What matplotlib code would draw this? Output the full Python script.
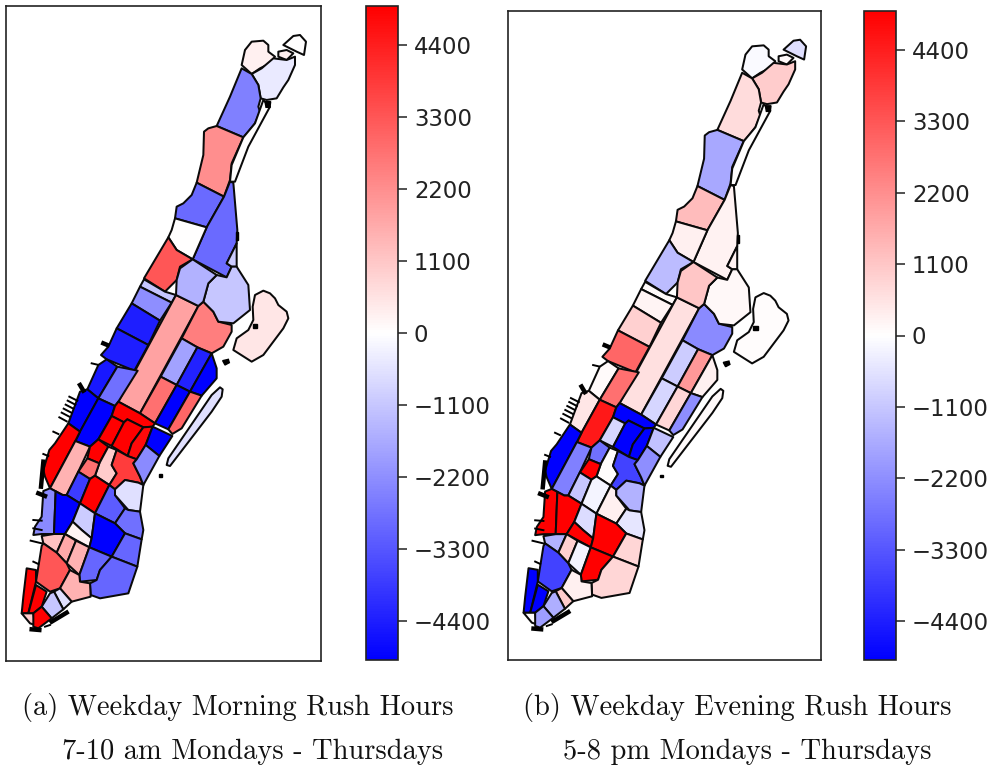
import matplotlib
matplotlib.use("Agg")
import matplotlib.pyplot as plt
from matplotlib.cm import ScalarMappable
from matplotlib.colors import Normalize
from matplotlib.patches import Polygon

W, H = 994, 766
SHIFT = 990

# ---- zone outlines (1/3 px units) ----
UPPER = [
 [(725,195),(735,150),(755,125),(790,122),(805,135),(805,155),(825,170),(810,190),(780,205),(755,222)],
 [(850,135),(880,108),(900,105),(918,125),(912,165),(890,155),(870,145)],
 [(835,155),(860,150),(880,160),(860,180),(835,170)],
 [(755,222),(785,205),(820,175),(860,180),(885,170),(885,195),(865,240),(850,262),(830,295),(800,300),(782,295),(775,255)],
 [(725,205),(755,222),(775,255),(782,295),(775,320),(780,335),(765,370),(745,395),(730,412),(690,395),(650,378),(690,290)],
 [(612,395),(625,385),(650,378),(690,395),(730,412),(695,490),(690,540),(672,590),(590,548),(610,465)],
 [(790,300),(810,320),(745,440),(705,545),(690,545),(695,495),(730,412),(765,370)],
 [(590,548),(672,590),(620,682),(525,655),(530,620),(550,610),(575,585)],
 [(690,545),(700,548),(712,690),(710,730),(680,790),(695,800),(680,832),(578,778),(620,682),(672,590)],
 [(710,730),(710,800),(695,800),(680,790)],
 [(515,690),(525,655),(620,682),(578,778),(530,750),(505,712)],
 [(505,712),(530,750),(578,778),(540,800),(530,840),(495,875),(432,835)],
 [(432,838),(495,875),(528,885),(515,908),(420,860)],
 [(420,860),(515,908),(480,962),(395,910)],
 [(395,910),(480,962),(445,1035),(350,985)],
 [(350,985),(445,1035),(403,1112),(320,1078),(303,1065),(325,1040)],
 [(528,885),(595,918),(420,1240),(355,1205)],
 [(595,918),(610,905),(640,935),(655,965),(695,975),(695,995),(670,1040),(635,1060),(592,1042),(545,1015)],
 [(625,850),(650,825),(680,832),(695,800),(710,800),(745,855),(750,930),(700,970),(655,965),(640,935),(610,905)],
 [(540,805),(578,778),(650,825),(625,850),(610,905),(595,918),(528,885),(530,840)],
 [(765,885),(790,872),(810,880),(825,895),(835,915),(860,935),(865,955),(850,985),(790,1065),(755,1085),(700,1050),(710,1015),(745,990),(760,960),(758,920)],
]
LOWER = [
 [(545,25),(592,52),(530,165),(482,140)],
 [(592,52),(635,70),(570,185),(530,165)],
 [(635,70),(650,115),(650,145),(605,197),(570,185)],
 [(482,140),(530,165),(465,280),(420,250)],
 [(530,165),(570,185),(505,298),(465,280)],
 [(570,185),(605,197),(545,295),(517,312),(505,298)],
 [(320,88),(352,110),(295,205),(262,178),(295,105)],
 [(352,110),(413,122),(355,215),(345,228),(295,205)],
 [(240,185),(262,178),(295,205),(240,305),(205,280)],
 [(295,205),(345,228),(335,258),(295,328),(270,350),(226,333),(240,305)],
 [(345,228),(355,215),(420,250),(465,280),(458,290),(430,292),(382,268),(372,277),(335,258)],
 [(335,258),(372,277),(335,348),(295,328)],
 [(372,277),(382,268),(430,292),(395,340),(383,378),(335,348)],
 [(430,292),(458,290),(437,345),(410,388),(383,378),(395,340)],
 [(458,290),(517,318),(478,378),(437,345)],
 [(148,360),(165,340),(205,280),(240,305),(226,333),(150,475),(135,440),(130,420)],
 [(226,333),(270,350),(235,425),(200,495),(188,495),(150,475)],
 [(270,350),(295,328),(325,350),(298,400),(262,385)],
 [(325,350),(350,360),(335,405),(350,430),(328,465),(285,437),(298,400)],
 [(350,360),(383,378),(410,388),(400,400),(420,440),(430,465),(415,458),(375,450),(345,478),(328,465),(350,430),(335,405)],
 [(262,385),(298,400),(285,437),(270,447),(235,425)],
 [(437,345),(478,378),(430,465),(420,440),(400,400),(410,388)],
 [(235,425),(270,447),(240,520),(200,495)],
 [(270,447),(285,437),(328,465),(285,550),(240,520)],
 [(328,465),(345,478),(345,495),(375,535),(345,580),(285,550)],
 [(375,450),(415,458),(430,465),(420,545),(385,540),(345,495),(345,478)],
 [(375,535),(385,540),(420,545),(430,600),(425,628),(375,610),(345,580)],
 [(130,483),(150,475),(167,484),(162,612),(125,612),(100,615),(105,590),(125,560)],
 [(167,484),(188,495),(200,495),(240,520),(218,575),(195,612),(162,612)],
 [(240,520),(285,550),(275,625),(245,600),(218,575)],
 [(218,575),(245,600),(275,625),(268,652),(195,612)],
 [(285,550),(345,580),(375,610),(335,680),(268,652),(275,625)],
 [(375,610),(425,628),(412,710),(335,680)],
 [(125,618),(162,612),(195,612),(170,668),(130,640)],
 [(195,612),(228,632),(200,700),(170,668)],
 [(228,632),(268,652),(238,735),(200,700)],
 [(268,652),(335,680),(300,720),(290,750),(240,755),(238,735)],
 [(335,680),(412,710),(385,790),(300,805),(272,795),(270,760),(290,750),(300,720)],
 [(125,648),(130,640),(170,668),(200,700),(210,720),(180,775),(150,785),(108,755)],
 [(210,720),(238,735),(240,755),(270,760),(272,800),(215,815),(180,775)],
 [(162,785),(180,775),(215,815),(190,838)],
 [(125,830),(150,790),(162,785),(190,838),(155,865)],
 [(80,715),(108,720),(108,755),(85,850),(65,850),(70,800)],
 [(108,765),(140,785),(125,830),(100,850),(85,850)],
 [(65,850),(85,850),(100,850),(105,885),(90,880)],
 [(100,850),(125,830),(155,865),(115,895),(100,890)],
 [(500,405),(505,385),(635,195),(660,172),(668,178),(665,200),(635,245),(510,408)],
]
FINE_PIERS = [
 [(208,200),(232,212)], [(203,212),(226,224)], [(197,224),(220,236)],
 [(191,236),(214,248)], [(185,248),(208,260)], [(178,262),(200,274)],
 [(100,570),(125,572)], [(100,595),(125,600)], [(92,632),(125,640)],
 [(100,695),(115,702)], [(160,305),(175,312)], [(130,372),(145,378)],
 [(135,890),(150,885)], [(275,100),(292,104)],
]
THICK_PIERS = [
 [(130,395),(123,470)], [(115,490),(135,498)], [(240,165),(250,182)],
 [(310,40),(322,45)], [(155,875),(200,848)], [(95,898),(118,900)],
]
BLOBS = [[(668,92),(685,88),(688,98),(675,105)], [(476,432),(485,432),(485,440),(476,440)]]
BLOBS_UPPER = [[(795,305),(812,305),(810,322),(798,322)], [(708,695),(714,695),(714,720),(708,720)],
               [(758,972),(772,972),(772,985),(758,985)]]

# ---- zone values in the order of UPPER then LOWER ----
MORNING = [300, 0, 300, -400, -2500, 2200, 0, -2900, -2900, -1000, 0, 3300, -1100, -2200, -4400,
           -4400, 1800, 2500, -1100, -1500, 500,
           -1800, -4300, -5000, 2800, -5000, 3000, -4500, -2800, -5000, -5000,
           5000, 5000, 5000, 4800, -5000, 5000, 1500, 5000, 1000, 3800, 2800,
           -2300, -3800, 5000, -3200, -600, -2800, -2300, -5000, -1000, 200, -5000, -3000,
           1200, 1700, 1500, -3000, -3000, 3300, 1500, -600, -1100, 5000, 5000, 1000, 5000, -600]
EVENING = [-100, -600, 100, 1000, 700, -1700, 0, 1300, 250, 250, 300, -1300, 100, 200, 900,
           3000, 600, -2300, 150, 1100, 50,
           -1000, 2000, 300, -800, 800, -2200, 100, 2800, 500, 4500,
           -5000, -800, -5000, -5000, -1200, -5000, -2500, -2800, 50, -3700, 5000,
           -2200, -1100, -200, 300, -1500, -500, 5000, 5000, -700, 5000, 5000, 800,
           -1500, 900, -200, 5000, 800, -3700, 300, 1000, -1600, -5000, -5000, 50, -1900, 100]

PANELS = [
    dict(box=(6, 6, 321, 661), cbar=(366, 6, 398, 660), values=MORNING),
    dict(box=(508, 11, 821, 660), cbar=(864, 11, 896, 660), values=EVENING),
]
TICKS = [-4400, -3300, -2200, -1100, 0, 1100, 2200, 3300, 4400]
LIMIT = 5000

CAPTIONS = [
    ("(a) Weekday Morning Rush Hours", 22, 707),
    ("7-10 am Mondays - Thursdays", 62, 752),
    ("(b) Weekday Evening Rush Hours", 523, 707),
    ("5-8 pm Mondays - Thursdays", 563, 752),
]


def rect(box):
    x0, y0, x1, y1 = box
    return [x0 / W, 1 - y1 / H, (x1 - x0) / W, (y1 - y0) / H]


fig = plt.figure(figsize=(W / 100, H / 100), dpi=100)
norm = Normalize(-LIMIT, LIMIT)
cmap = plt.get_cmap("bwr")
shapes = UPPER + [[(x, y + SHIFT) for x, y in z] for z in LOWER]

for panel in PANELS:
    ax = fig.add_axes(rect(panel["box"]))
    for shape, value in zip(shapes, panel["values"]):
        ax.add_patch(Polygon(shape, closed=True, facecolor=cmap(norm(value)),
                             edgecolor="#0a0a0a", linewidth=1.45, joinstyle="round"))
    for a, b in FINE_PIERS:
        ax.plot([a[0], b[0]], [a[1] + SHIFT, b[1] + SHIFT], color="black", lw=1.4)
    for a, b in THICK_PIERS:
        ax.plot([a[0], b[0]], [a[1] + SHIFT, b[1] + SHIFT], color="black", lw=3.2)
    for blob in BLOBS:
        ax.add_patch(Polygon([(x, y + SHIFT) for x, y in blob], color="black"))
    for blob in BLOBS_UPPER:
        ax.add_patch(Polygon(blob, color="black"))
    ax.set_xlim(18, 963)
    ax.set_ylim(1983, 18)
    ax.set_xticks([])
    ax.set_yticks([])
    for s in ax.spines.values():
        s.set_linewidth(1.2)
        s.set_edgecolor("#222222")
    cax = fig.add_axes(rect(panel["cbar"]))
    cb = fig.colorbar(ScalarMappable(norm=norm, cmap=cmap), cax=cax, ticks=TICKS)
    cb.ax.tick_params(labelsize=16.4, length=6.5, width=1.1, pad=5, labelcolor="#222222", color="#222222")
    cb.outline.set_linewidth(1.2)
    cb.outline.set_edgecolor("#222222")

for text, x, y in CAPTIONS:
    fig.text(x / W, 1 - y / H, text, family="cmr10", fontsize=20.5, ha="left", va="center", color="#111111")

fig.savefig("out.png", dpi=100)
